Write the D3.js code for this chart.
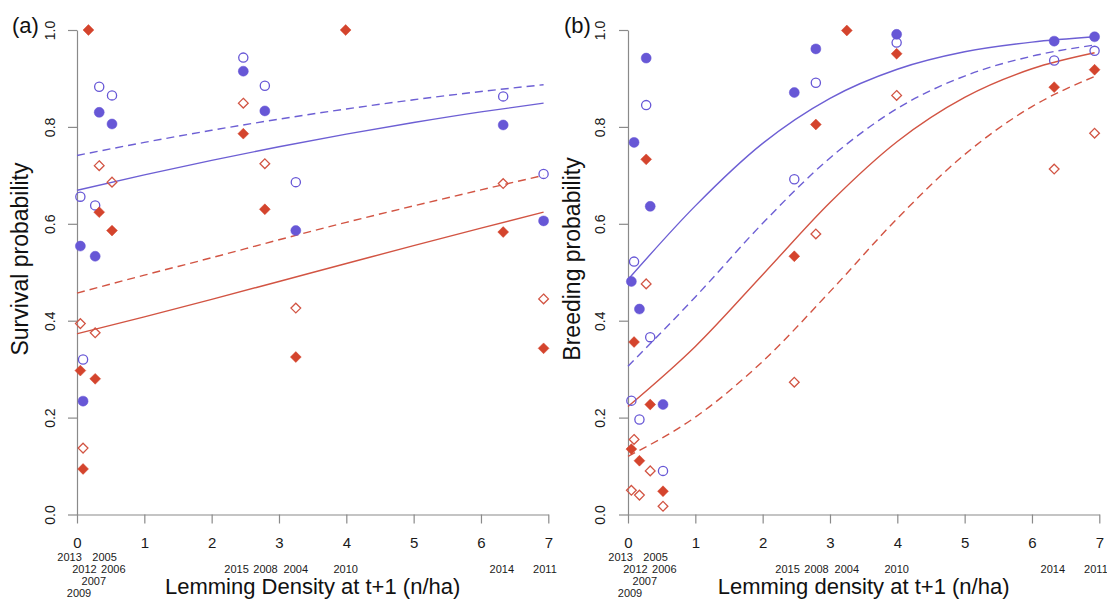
<!DOCTYPE html>
<html>
<head>
<meta charset="utf-8">
<script src="https://cdn.jsdelivr.net/npm/d3@7"></script>
<style>
  body { margin: 0; background: #fff; }
  svg { display: block; font-family: "Liberation Sans", Arial, sans-serif; }
  .axis path, .axis line { stroke: #8a8a8a; stroke-width: 1.2; }
  .axis text { fill: #1a1a1a; }
</style>
</head>
<body>
<div id="chart"></div>
<script>
// Years and lemming density at t+1 (n/ha)
const years = ["2013", "2009", "2012", "2007", "2005", "2006", "2015", "2008", "2004", "2010", "2014", "2011"];
const lemming = [0.05, 0.09, 0.17, 0.27, 0.33, 0.52, 2.47, 2.79, 3.25, 3.99, 6.33, 6.93];

// (a) survival probability, one value per year (null = not shown)
const survBlueFilled = [0.554, 0.234, null, 0.533, 0.830, 0.806, 0.915, 0.833, 0.586, null, 0.804, 0.606];
const survBlueOpen   = [0.656, 0.320, null, 0.638, 0.883, 0.865, 0.943, 0.885, 0.686, null, 0.863, 0.703];
const survRedFilled  = [0.297, 0.094, 1.000, 0.280, 0.624, 0.586, 0.786, 0.630, 0.325, 1.000, 0.583, 0.343];
const survRedOpen    = [0.394, 0.137, null, 0.375, 0.720, 0.686, 0.849, 0.724, 0.426, null, 0.683, 0.445];

// (b) breeding probability
const breedBlueFilled = [0.481, 0.768, 0.424, 0.942, 0.636, 0.227, 0.871, 0.961, null, 0.991, 0.977, 0.986];
const breedBlueOpen   = [0.235, 0.522, 0.196, 0.845, 0.366, 0.090, 0.692, 0.891, null, 0.974, 0.937, 0.957];
const breedRedFilled  = [0.135, 0.356, 0.111, 0.733, 0.227, 0.048, 0.533, 0.805, 0.999, 0.951, 0.882, 0.918];
const breedRedOpen    = [0.050, 0.155, 0.040, 0.476, 0.090, 0.017, 0.273, 0.579, null, 0.865, 0.713, 0.787];

// fitted curves at these densities
const curveX = [0, 1, 2, 3, 4, 5, 6, 6.93];
const survBlueSolid  = [0.669, 0.701, 0.731, 0.759, 0.785, 0.809, 0.831, 0.849];
const survBlueDash   = [0.741, 0.768, 0.793, 0.816, 0.837, 0.856, 0.873, 0.887];
const survRedSolid   = [0.373, 0.408, 0.444, 0.481, 0.518, 0.555, 0.591, 0.624];
const survRedDash    = [0.457, 0.494, 0.530, 0.567, 0.603, 0.637, 0.670, 0.700];
const breedBlueSolid = [0.485, 0.637, 0.766, 0.859, 0.919, 0.955, 0.975, 0.986];
const breedBlueDash  = [0.306, 0.449, 0.601, 0.736, 0.838, 0.905, 0.946, 0.969];
const breedRedSolid  = [0.223, 0.347, 0.495, 0.644, 0.770, 0.861, 0.920, 0.953];
const breedRedDash   = [0.120, 0.201, 0.316, 0.460, 0.611, 0.743, 0.842, 0.904];

// year labels under the axis: [year, density position, row]
const yearLabels = [
  ["2013", -0.11, 0], ["2005", 0.41, 0],
  ["2012", 0.11, 1], ["2006", 0.54, 1],
  ["2007", 0.25, 2], ["2009", 0.03, 3],
  ["2015", 2.37, 1], ["2008", 2.8, 1], ["2004", 3.25, 1],
  ["2010", 3.99, 1], ["2014", 6.31, 1], ["2011", 6.95, 1]
];
const xTicks = [0, 1, 2, 3, 4, 5, 6, 7];
const yTicks = [0, 0.2, 0.4, 0.6, 0.8, 1.0];

const blue = "#6757d6";
const red = "#d4442d";
const blueLine = "#6d5fd4";
const redLine = "#d25443";

const W = 1107, H = 600;
const svg = d3.select("#chart").append("svg")
    .attr("width", W)
    .attr("height", H);

function drawPanel(p) {
    const x = d3.scaleLinear().domain([0, 7]).range([p.left, p.left + 471.3]);
    const y = d3.scaleLinear().domain([0, 1]).range([514.5, 30]);
    const g = svg.append("g");

    // axes
    const yAxis = g.append("g")
        .attr("class", "axis")
        .attr("transform", "translate(" + p.left + ",0)")
        .call(d3.axisLeft(y).tickValues(yTicks).tickSize(9).tickSizeOuter(0).tickFormat(d3.format(".1f")));
    yAxis.selectAll("text")
        .attr("x", 0).attr("dy", 0)
        .attr("text-anchor", "middle")
        .attr("transform", "translate(" + (-p.tickGap) + ",0) rotate(-90)")
        .style("font-size", "14px");

    const xAxis = g.append("g")
        .attr("class", "axis")
        .attr("transform", "translate(0,514.5)")
        .call(d3.axisBottom(x).tickValues(xTicks).tickSize(9).tickSizeOuter(0).tickFormat(d3.format("d")));
    xAxis.selectAll("text")
        .attr("y", 33.5).attr("dy", 0)
        .style("font-size", "15px");

    // year labels
    g.selectAll(".yr")
        .data(yearLabels)
        .enter()
        .append("text")
        .attr("x", d => x(d[1]))
        .attr("y", d => 560.5 + d[2] * 12.2)
        .attr("text-anchor", "middle")
        .attr("fill", "#1a1a1a")
        .style("font-size", "11px")
        .text(d => d[0]);

    // titles
    g.append("text")
        .attr("x", x(3.5))
        .attr("y", 594)
        .attr("text-anchor", "middle")
        .attr("fill", "#111")
        .style("font-size", "22px")
        .text(p.xTitle);

    g.append("text")
        .attr("transform", "translate(" + p.yTitleX + ",259) rotate(-90)")
        .attr("text-anchor", "middle")
        .attr("fill", "#111")
        .style("font-size", "23px")
        .text(p.yTitle);

    g.append("text")
        .attr("x", p.tagX)
        .attr("y", 33)
        .attr("fill", "#111")
        .style("font-size", "22px")
        .text(p.tag);

    // fitted curves
    const line = d3.line()
        .x(d => x(d[0]))
        .y(d => y(d[1]))
        .curve(d3.curveMonotoneX);

    p.curves.forEach(c => {
        g.append("path")
            .datum(curveX.map((v, i) => [v, c.values[i]]))
            .attr("fill", "none")
            .attr("stroke", c.color)
            .attr("stroke-width", 1.4)
            .attr("stroke-dasharray", c.dashed ? "8,5" : null)
            .attr("d", line);
    });

    // points
    const diamond = d3.symbol().type(d3.symbolDiamond2);
    p.points.forEach(s => {
        const pts = lemming.map((v, i) => [v, s.values[i]]).filter(d => d[1] !== null);
        const sel = g.selectAll(null)
            .data(pts)
            .enter();
        if (s.shape === "circle") {
            sel.append("circle")
                .attr("cx", d => x(d[0]))
                .attr("cy", d => y(d[1]))
                .attr("r", s.filled ? 5 : 4.6)
                .attr("fill", s.filled ? s.color : "none")
                .attr("stroke", s.color)
                .attr("stroke-width", s.filled ? 0.5 : 1.3);
        } else {
            sel.append("path")
                .attr("transform", d => "translate(" + x(d[0]) + "," + y(d[1]) + ")")
                .attr("d", diamond.size(s.filled ? 75 : 60)())
                .attr("fill", s.filled ? s.color : "none")
                .attr("stroke", s.color)
                .attr("stroke-width", s.filled ? 0.5 : 1.3);
        }
    });
}

drawPanel({
    left: 77, tickGap: 22, yTitleX: 28, tagX: 12, tag: "(a)",
    xTitle: "Lemming Density at t+1 (n/ha)",
    yTitle: "Survival probability",
    curves: [
        { values: survBlueSolid, color: blueLine, dashed: false },
        { values: survBlueDash, color: blueLine, dashed: true },
        { values: survRedSolid, color: redLine, dashed: false },
        { values: survRedDash, color: redLine, dashed: true }
    ],
    points: [
        { values: survBlueFilled, color: blue, shape: "circle", filled: true },
        { values: survBlueOpen, color: blue, shape: "circle", filled: false },
        { values: survRedFilled, color: red, shape: "diamond", filled: true },
        { values: survRedOpen, color: redLine, shape: "diamond", filled: false }
    ]
});

drawPanel({
    left: 628, tickGap: 23, yTitleX: 580, tagX: 564, tag: "(b)",
    xTitle: "Lemming density at t+1 (n/ha)",
    yTitle: "Breeding probability",
    curves: [
        { values: breedBlueSolid, color: blueLine, dashed: false },
        { values: breedBlueDash, color: blueLine, dashed: true },
        { values: breedRedSolid, color: redLine, dashed: false },
        { values: breedRedDash, color: redLine, dashed: true }
    ],
    points: [
        { values: breedBlueFilled, color: blue, shape: "circle", filled: true },
        { values: breedBlueOpen, color: blue, shape: "circle", filled: false },
        { values: breedRedFilled, color: red, shape: "diamond", filled: true },
        { values: breedRedOpen, color: redLine, shape: "diamond", filled: false }
    ]
});
</script>
</body>
</html>
